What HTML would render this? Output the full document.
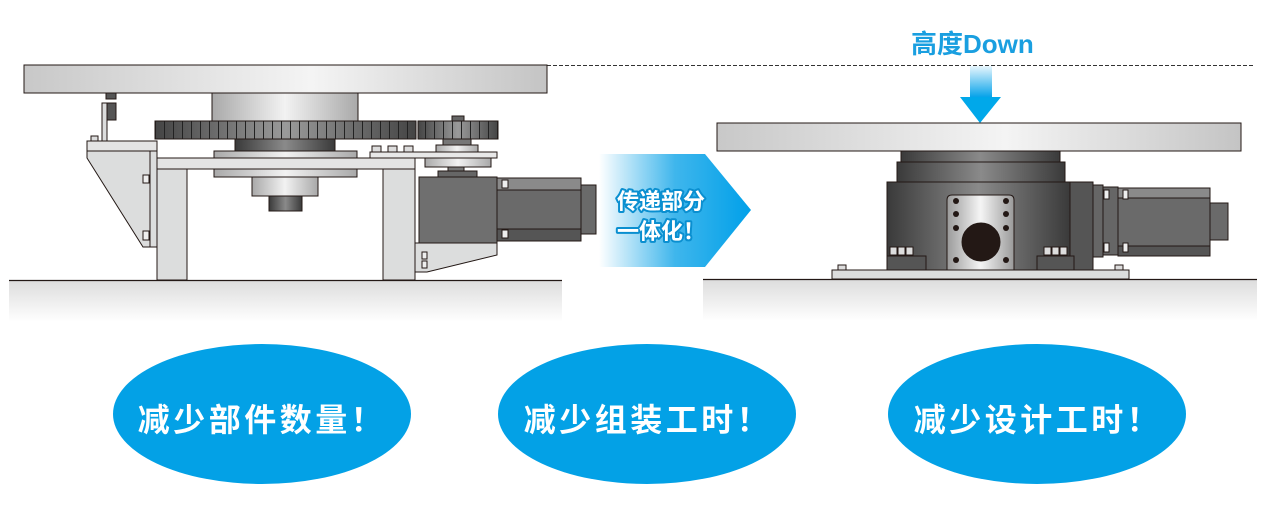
<!DOCTYPE html>
<html><head><meta charset="utf-8"><style>
html,body{margin:0;padding:0;background:#fff;width:1269px;height:511px;overflow:hidden}
svg{display:block}
.cj{font-family:"Noto Sans CJK SC","Liberation Sans",sans-serif;font-weight:bold}
.lt{font-family:"Liberation Sans","Noto Sans CJK SC",sans-serif;font-weight:bold}
</style></head><body>
<svg width="1269" height="511" viewBox="0 0 1269 511" xmlns="http://www.w3.org/2000/svg">
<defs>
<linearGradient id="plate" x1="0" x2="1"><stop offset="0" stop-color="#c8c8c8"/><stop offset="0.55" stop-color="#f4f4f4"/><stop offset="1" stop-color="#c4c4c4"/></linearGradient>
<linearGradient id="cyl" x1="0" x2="1"><stop offset="0" stop-color="#a9a9a9"/><stop offset="0.5" stop-color="#f2f2f2"/><stop offset="1" stop-color="#a9a9a9"/></linearGradient>
<linearGradient id="dcyl" x1="0" x2="1"><stop offset="0" stop-color="#3a3a3a"/><stop offset="0.5" stop-color="#8a8a8a"/><stop offset="1" stop-color="#3a3a3a"/></linearGradient>
<linearGradient id="gear" x1="0" x2="1"><stop offset="0" stop-color="#444"/><stop offset="0.5" stop-color="#9a9a9a"/><stop offset="1" stop-color="#444"/></linearGradient>
<linearGradient id="gnd" x1="0" y1="0" x2="0" y2="1"><stop offset="0" stop-color="#dcdcdc"/><stop offset="1" stop-color="#fff"/></linearGradient>
<linearGradient id="chev" x1="0" x2="1"><stop offset="0" stop-color="#fff"/><stop offset="0.5" stop-color="#3fb6ec"/><stop offset="1" stop-color="#00a0e9"/></linearGradient>
<linearGradient id="arr" x1="0" y1="0" x2="0" y2="1"><stop offset="0" stop-color="#e8f6fd"/><stop offset="1" stop-color="#00a0e9"/></linearGradient>
<linearGradient id="silver" x1="0" x2="1"><stop offset="0" stop-color="#9a9a9a"/><stop offset="0.5" stop-color="#f5f5f5"/><stop offset="1" stop-color="#9a9a9a"/></linearGradient>
<pattern id="teeth" x="155" y="0" width="9" height="20" patternUnits="userSpaceOnUse"><rect width="9" height="20" fill="none"/><line x1="0.5" y1="0" x2="0.5" y2="20" stroke="#222" stroke-width="1"/></pattern>
</defs>

<rect x="9" y="280" width="553" height="42" fill="url(#gnd)"/>
<line x1="9" y1="280.5" x2="562" y2="280.5" stroke="#231815" stroke-width="1.3"/>
<rect x="703" y="279" width="554" height="42" fill="url(#gnd)"/>
<line x1="703" y1="279.5" x2="1257" y2="279.5" stroke="#231815" stroke-width="1.3"/>

<line x1="547" y1="65.5" x2="1255" y2="65.5" stroke="#333" stroke-width="1" stroke-dasharray="4,2"/>

<g stroke="#231815" stroke-width="1">
<rect x="24" y="65" width="523" height="28" fill="url(#plate)"/>
<rect x="212" y="93" width="146" height="28" fill="url(#cyl)"/>
<rect x="155" y="121" width="261" height="18" fill="url(#gear)"/>
<rect x="155" y="121" width="261" height="18" fill="url(#teeth)"/>
<rect x="418" y="121" width="80" height="18" fill="url(#gear)"/>
<rect x="418" y="121" width="80" height="18" fill="url(#teeth)"/>
<rect x="452" y="116" width="12" height="5" fill="#666"/>
<rect x="235" y="139" width="100" height="12" fill="url(#dcyl)"/>
<rect x="214" y="151" width="143" height="26" fill="url(#cyl)"/>
<rect x="157" y="158" width="258" height="11" fill="#e4e4e4"/>
<rect x="252" y="177" width="66" height="19" fill="url(#cyl)"/>
<rect x="269" y="196" width="33" height="15" fill="url(#dcyl)"/>
<rect x="157" y="169" width="30" height="111" fill="#dcdddd"/>
<rect x="383" y="169" width="32" height="111" fill="#dcdddd"/>
<rect x="106" y="93" width="10" height="6" fill="#555"/>
<rect x="106" y="103" width="10" height="17" fill="#555"/>
<polygon points="102,103 107,103 107,146 102,146" fill="#dcdddd"/>
<rect x="91" y="136" width="7" height="5" fill="#dcdddd"/>
<rect x="87" y="141" width="70" height="10" fill="#e4e4e4"/>
<polygon points="87,151 157,151 157,247 143,247 87,158" fill="#dcdddd"/>
<line x1="150" y1="151" x2="150" y2="247"/>
<rect x="143" y="175" width="6" height="8" fill="#eee"/>
<rect x="143" y="231" width="6" height="9" fill="#eee"/>
<rect x="372" y="146" width="9" height="6" fill="#ddd"/>
<rect x="388" y="146" width="9" height="6" fill="#ddd"/>
<rect x="404" y="146" width="9" height="6" fill="#ddd"/>
<rect x="436" y="145" width="42" height="7" fill="url(#cyl)"/>
<rect x="443" y="139" width="28" height="6" fill="#777"/>
<rect x="370" y="152" width="127" height="6" fill="#e8e8e8"/>
<rect x="425" y="158" width="66" height="9" fill="url(#cyl)"/>
<rect x="448" y="167" width="16" height="4" fill="#777"/>
<rect x="438" y="171" width="39" height="6" fill="#666"/>
<rect x="419" y="177" width="78" height="66" fill="#6f6f6f"/>
<rect x="497" y="178" width="84" height="63" fill="#6a6a6a"/>
<rect x="497" y="178" width="84" height="12" fill="#8a8a8a"/>
<rect x="497" y="229" width="84" height="12" fill="#555"/>
<rect x="581" y="185" width="15" height="49" fill="#6a6a6a"/>
<rect x="502" y="180" width="6" height="8" fill="#eee"/>
<rect x="502" y="230" width="6" height="8" fill="#eee"/>
<polygon points="415,243 497,243 497,255 427,272 415,272" fill="#dcdddd"/>
<rect x="422" y="252" width="5" height="7" fill="#eee"/>
<rect x="422" y="261" width="5" height="7" fill="#eee"/>
</g>

<polygon points="599,154 705,154 751,210 705,267 599,267" fill="url(#chev)"/>
<g class="cj" font-size="22" fill="#fff" stroke="#0a8fd0" stroke-width="4" paint-order="stroke" stroke-linejoin="round">
<text x="617" y="209">传递部分</text>
<text x="617" y="239">一体化！</text>
</g>

<text x="911" y="53" class="lt" font-size="26" fill="#1a9fe0">高度Down</text>
<rect x="970" y="66" width="22" height="32" fill="url(#arr)"/>
<polygon points="960,97 1001,97 980,123" fill="#00a8ea"/>
<g stroke="#231815" stroke-width="1">
<rect x="717" y="123" width="524" height="28" fill="url(#plate)"/>
<rect x="901" y="151" width="159" height="11" fill="url(#dcyl)"/>
<rect x="897" y="162" width="168" height="20" fill="url(#dcyl)"/>
<rect x="832" y="270" width="297" height="9" fill="#dcdddd"/>
<rect x="838" y="265" width="8" height="5" fill="#ddd"/>
<rect x="1115" y="265" width="8" height="5" fill="#ddd"/>
<rect x="887" y="182" width="183" height="88" fill="url(#dcyl)"/>
<rect x="1070" y="182" width="23" height="88" fill="#555"/>
<rect x="887" y="256" width="39" height="14" fill="#555"/>
<rect x="1037" y="256" width="37" height="14" fill="#555"/>
<rect x="890" y="247" width="7" height="8" fill="#ddd"/>
<rect x="898" y="247" width="7" height="8" fill="#ddd"/>
<rect x="906" y="247" width="7" height="8" fill="#ddd"/>
<rect x="1044" y="247" width="7" height="8" fill="#ddd"/>
<rect x="1052" y="247" width="7" height="8" fill="#ddd"/>
<rect x="1060" y="247" width="7" height="8" fill="#ddd"/>
<path d="M947,270 L947,200 Q947,195 952,195 L1009,195 Q1014,195 1014,200 L1014,270 Z" fill="url(#silver)"/>
<ellipse cx="981" cy="242" rx="19" ry="19" fill="#231815"/>
<rect x="1093" y="185" width="10" height="72" fill="#666"/>
<rect x="1103" y="187" width="15" height="68" fill="#666"/>
<rect x="1118" y="188" width="92" height="68" fill="#6a6a6a"/>
<rect x="1118" y="188" width="92" height="10" fill="#8a8a8a"/>
<rect x="1118" y="246" width="92" height="10" fill="#555"/>
<rect x="1210" y="203" width="18" height="37" fill="#6a6a6a"/>
<rect x="1104" y="190" width="5" height="9" fill="#eee"/>
<rect x="1104" y="243" width="5" height="9" fill="#eee"/>
<rect x="1123" y="190" width="5" height="9" fill="#eee"/>
<rect x="1123" y="243" width="5" height="9" fill="#eee"/>
</g>
<g fill="#231815">
<circle cx="956" cy="201" r="3"/><circle cx="1006" cy="201" r="3"/>
<circle cx="956" cy="214" r="3"/><circle cx="1006" cy="214" r="3"/>
<circle cx="956" cy="228" r="3"/><circle cx="1006" cy="228" r="3"/>
<circle cx="956" cy="260" r="3"/><circle cx="1006" cy="260" r="3"/>
</g>

<ellipse cx="262" cy="414" rx="149" ry="70" fill="#03a1e6"/>
<ellipse cx="647" cy="414" rx="149" ry="70" fill="#03a1e6"/>
<ellipse cx="1037" cy="414" rx="149" ry="70" fill="#03a1e6"/>
<g class="cj" font-size="32" fill="#fff" text-anchor="middle" letter-spacing="3.5">
<text x="262" y="431">减少部件数量！</text>
<text x="648" y="431">减少组装工时！</text>
<text x="1038" y="431">减少设计工时！</text>
</g>
</svg>
</body></html>
